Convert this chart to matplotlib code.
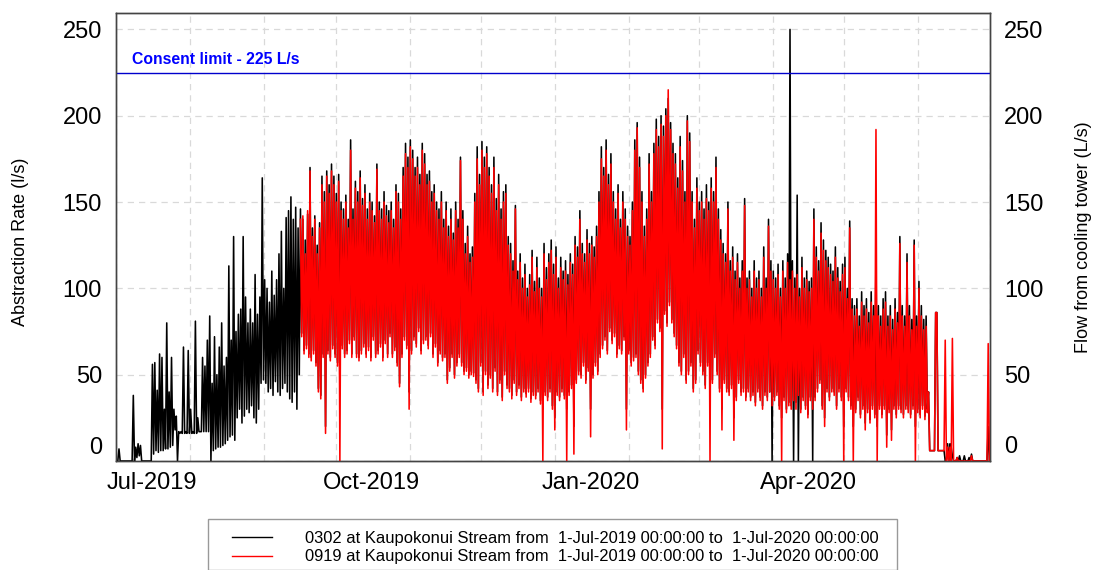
import numpy as np
import matplotlib
matplotlib.use("Agg")
import matplotlib.pyplot as plt
import matplotlib.dates as mdates
import matplotlib.transforms as mtransforms
from matplotlib.patches import Rectangle
from datetime import datetime

plt.rcParams["font.family"] = ["Liberation Sans", "DejaVu Sans"]

# ---------------------------------------------------------------------------
# Data: daily high / low readings (l/s).
# Black = site 0302 (from 1-Jul-2019), red = site 0919 (from 16-Sep-2019)
# ---------------------------------------------------------------------------
START = datetime(2019, 7, 1)
END = datetime(2020, 7, 1)
RED_START_DAY = 77

black_hi = [
    0, 7, 0, 0, 0, 0, 0, 38, 8, 10,
    9, 0, 0, 0, 0, 56, 57, 41, 62, 60,
    30, 80, 40, 60, 30, 26, 17, 17, 66, 17,
    64, 30, 17, 81, 25, 17, 60, 55, 70, 84,
    45, 72, 50, 66, 80, 55, 60, 113, 70, 130,
    75, 85, 88, 130, 95, 80, 88, 80, 108, 85,
    95, 164, 105, 100, 92, 110, 96, 105, 120, 133,
    100, 141, 145, 153, 140, 147, 135,
    146, 140, 128, 143, 170, 135, 142, 125, 138, 165,
    156, 168, 160, 172, 165, 155, 166, 150, 146, 154,
    140, 186, 146, 162, 156, 168, 152, 160, 146, 155,
    150, 142, 172, 150, 146, 156, 148, 145, 150, 140,
    160, 155, 146, 170, 184, 176, 186, 180, 170, 176,
    166, 184, 178, 166, 168, 156, 160, 150, 146, 156,
    140, 150, 136, 146, 132, 150, 140, 176, 145, 126,
    136, 120, 124, 155, 182, 166, 185, 176, 182, 170,
    160, 176, 152, 166, 146, 156, 160, 130, 126, 116,
    148, 110, 120, 106, 114, 100, 108, 122, 104, 118,
    106, 100, 126, 112, 120, 128, 114, 124, 106, 118,
    110, 116, 108, 120, 114, 130, 124, 145, 126, 120,
    134, 126, 130, 124, 136, 156, 182, 170, 186, 166,
    178, 156, 146, 160, 140, 156, 146, 136, 130, 150,
    186, 196, 176, 156, 136, 146, 178, 156, 184, 198,
    188, 200, 194, 204, 210, 196, 184, 178, 164, 188,
    174, 156, 200, 190, 156, 140, 164, 150, 156, 146,
    160, 150, 164, 156, 176, 146, 134, 126, 120, 150,
    116, 124, 110, 120, 106, 116, 152, 106, 110, 100,
    116, 106, 110, 100, 124, 106, 140, 116, 110, 106,
    114, 100, 116, 106, 120, 250, 116, 106, 154, 100,
    118, 106, 110, 104, 106, 146, 124, 116, 138, 128,
    122, 118, 114, 110, 124, 112, 104, 114, 118, 100,
    139, 94, 90, 94, 84, 98, 90, 94, 86, 98,
    90, 121, 90, 84, 94, 98, 84, 90, 82, 94,
    86, 130, 90, 84, 120, 90, 82, 128, 84, 104,
    90, 82, 84, 40, 6, 6, 86, 6, 6, 6,
    0, 10, 10, 3, 0, 2, 3, 0, 3, 0,
    2, 4, 0, 0, 0, 0, 0, 0, 20,
]

black_lo = [
    0, 0, 0, 0, 0, 0, 0, 0, 2, 3,
    0, 0, 0, 0, 0, 4, 6, 5, 6, 6,
    7, 7, 8, 9, 18, 0, 16, 16, 16, 16,
    16, 16, 16, 16, 17, 17, 17, 17, 17, 0,
    6, 7, 8, 8, 9, 10, 12, 14, 15, 12,
    25, 30, 22, 26, 30, 28, 32, 25, 22, 30,
    45, 47, 45, 40, 42, 38, 46, 40, 38, 42,
    45, 40, 36, 34, 40, 30, 50,
    74, 64, 67, 62, 60, 64, 57, 42, 38, 62,
    20, 64, 60, 67, 62, 57, 40, 67, 62, 64,
    70, 62, 72, 62, 60, 64, 68, 62, 66, 60,
    72, 62, 64, 68, 60, 70, 62, 74, 62, 66,
    57, 45, 62, 72, 67, 40, 64, 72, 68, 77,
    64, 70, 72, 67, 74, 62, 68, 57, 64, 60,
    62, 47, 54, 62, 50, 57, 62, 57, 52, 54,
    50, 52, 51, 47, 42, 57, 40, 52, 44, 50,
    42, 54, 40, 47, 37, 52, 44, 42, 38, 47,
    40, 44, 37, 42, 39, 42, 36, 40, 38, 42,
    35, 30, 40, 37, 42, 32, 25, 40, 37, 42,
    38, 30, 40, 44, 20, 47, 52, 50, 57, 47,
    54, 30, 50, 57, 52, 62, 67, 72, 64, 77,
    70, 74, 62, 67, 64, 72, 30, 64, 57, 60,
    62, 52, 47, 42, 50, 57, 62, 72, 67, 82,
    77, 30, 87, 80, 92, 82, 74, 67, 57, 52,
    62, 47, 52, 57, 42, 47, 64, 57, 52, 44,
    57, 30, 47, 62, 52, 42, 30, 47, 42, 40,
    44, 25, 37, 47, 40, 42, 37, 42, 37, 40,
    34, 42, 37, 32, 40, 37, 40, 0, 37, 40,
    32, 25, 37, 30, 34, 32, 0, 34, 0, 30,
    37, 32, 27, 37, 0, 37, 42, 47, 32, 25,
    42, 37, 42, 40, 32, 42, 37, 20, 42, 37,
    32, 20, 30, 37, 27, 32, 22, 30, 24, 32,
    27, 20, 32, 27, 32, 15, 30, 18, 32, 27,
    32, 30, 27, 32, 30, 27, 32, 20, 30, 27,
    32, 26, 30, 6, 6, 6, 86, 6, 6, 6,
    0, 0, 8, 0, 0, 0, 0, 0, 0, 0,
    0, 0, 0, 0, 0, 0, 0, 0, 0,
]

red_hi = [
    140, 142, 120, 145, 168, 130, 140, 120, 135, 160,
    150, 165, 155, 168, 160, 150, 162, 145, 140, 150,
    135, 180, 140, 158, 150, 164, 148, 155, 140, 150,
    145, 138, 169, 145, 140, 150, 142, 138, 145, 135,
    156, 150, 140, 165, 178, 170, 182, 175, 165, 170,
    160, 180, 172, 160, 162, 150, 155, 145, 140, 150,
    135, 145, 130, 140, 128, 145, 135, 174, 140, 120,
    130, 115, 118, 150, 175, 160, 180, 170, 178, 165,
    155, 170, 145, 160, 140, 150, 155, 125, 120, 110,
    146, 105, 115, 100, 108, 95, 102, 118, 98, 112,
    100, 95, 120, 105, 115, 122, 108, 118, 100, 112,
    105, 110, 102, 115, 108, 125, 118, 140, 120, 115,
    128, 120, 125, 118, 130, 150, 175, 165, 180, 160,
    172, 150, 140, 155, 135, 150, 140, 130, 125, 145,
    180, 193, 170, 150, 130, 140, 172, 150, 178, 192,
    182, 195, 188, 200, 215, 192, 178, 172, 158, 182,
    168, 150, 197, 185, 150, 135, 158, 145, 150, 140,
    152, 145, 158, 150, 170, 140, 128, 120, 115, 146,
    110, 118, 105, 115, 100, 110, 148, 100, 105, 95,
    110, 100, 105, 95, 118, 100, 136, 110, 105, 100,
    108, 95, 110, 100, 115, 105, 110, 100, 108, 95,
    112, 100, 105, 98, 100, 140, 118, 110, 132, 122,
    116, 112, 108, 104, 118, 106, 98, 108, 112, 94,
    135, 88, 84, 88, 78, 92, 84, 88, 80, 92,
    84, 192, 84, 78, 88, 92, 78, 84, 76, 88,
    80, 126, 84, 78, 115, 84, 76, 125, 78, 100,
    84, 76, 78, 40, 6, 6, 86, 6, 6, 6,
    70, 8, 8, 71, 0, 2, 0, 0, 0, 0,
    0, 3, 0, 0, 0, 0, 0, 0, 68,
]

red_lo = [
    72, 62, 65, 60, 58, 62, 55, 40, 36, 60,
    16, 62, 58, 65, 60, 55, 0, 65, 60, 62,
    68, 60, 70, 60, 58, 62, 66, 60, 64, 58,
    70, 60, 62, 66, 58, 68, 60, 72, 60, 64,
    55, 43, 60, 70, 65, 30, 62, 70, 66, 75,
    62, 68, 70, 65, 72, 60, 66, 55, 62, 58,
    60, 45, 52, 60, 48, 55, 60, 55, 50, 52,
    48, 50, 49, 45, 40, 55, 38, 50, 42, 48,
    40, 52, 38, 45, 35, 50, 42, 40, 36, 45,
    38, 42, 35, 40, 37, 40, 34, 38, 36, 40,
    33, 0, 38, 35, 40, 30, 18, 38, 35, 40,
    36, 0, 38, 42, 4, 45, 50, 48, 55, 45,
    52, 14, 48, 55, 50, 60, 65, 70, 62, 75,
    68, 72, 60, 65, 62, 70, 18, 62, 55, 58,
    60, 50, 45, 40, 48, 55, 60, 70, 65, 80,
    75, 7, 85, 78, 90, 80, 72, 65, 55, 50,
    60, 45, 50, 55, 40, 45, 62, 55, 50, 42,
    55, 0, 45, 60, 50, 40, 18, 45, 40, 38,
    42, 12, 35, 45, 38, 40, 35, 40, 35, 38,
    32, 40, 35, 30, 38, 35, 40, 32, 35, 38,
    30, 0, 35, 28, 32, 30, 35, 30, 38, 28,
    35, 30, 25, 35, 30, 35, 40, 45, 30, 20,
    40, 35, 40, 38, 30, 40, 35, 0, 40, 35,
    30, 0, 28, 35, 25, 30, 18, 28, 22, 30,
    25, 0, 30, 25, 30, 8, 28, 12, 30, 25,
    30, 28, 25, 30, 28, 25, 30, 0, 28, 25,
    30, 24, 28, 6, 6, 6, 86, 6, 6, 6,
    0, 0, 0, 0, 0, 0, 0, 0, 0, 0,
    0, 0, 0, 0, 0, 0, 0, 0, 0,
]

CONSENT_LIMIT = 225
LABEL_BLACK = "0302 at Kaupokonui Stream from  1-Jul-2019 00:00:00 to  1-Jul-2020 00:00:00"
LABEL_RED = "0919 at Kaupokonui Stream from  1-Jul-2019 00:00:00 to  1-Jul-2020 00:00:00"


def zigzag(hi, lo, first_day):
    """Interleave daily high/low readings at 06:00 and 18:00."""
    hi = np.asarray(hi, dtype=float)
    lo = np.asarray(lo, dtype=float)
    vals = np.column_stack([hi, lo]).ravel()
    t = mdates.date2num(START) + first_day + 0.25 + 0.5 * np.arange(len(vals))
    return t, vals


tb, vb = zigzag(black_hi, black_lo, 0)
tr, vr = zigzag(red_hi, red_lo, RED_START_DAY)

W, H = 1093, 570
fig = plt.figure(figsize=(W / 100, H / 100), dpi=100)
ax = fig.add_axes([116 / W, 1 - 461 / H, 874 / W, 448 / H])

ax.plot(tb, vb, color="black", lw=1.15, label=LABEL_BLACK, zorder=3)
ax.plot(tr, vr, color="#ff0000", lw=1.15, label=LABEL_RED, zorder=4)
ax.axhline(CONSENT_LIMIT, color="#0000cc", lw=1.0, zorder=5)
ax.text(mdates.date2num(START) + 6.7, 232.5, "Consent limit - 225 L/s",
        color="#0000ff", fontsize=11.3, fontweight="bold", va="center", ha="left")

ax.set_xlim(mdates.date2num(START), mdates.date2num(END))
ax.set_ylim(0, 259.5)

# monthly grid, quarterly labels at mid-month
ax.xaxis.set_major_locator(mdates.MonthLocator(bymonthday=1))
ax.xaxis.set_major_formatter(plt.NullFormatter())
ax.xaxis.set_minor_locator(mdates.MonthLocator(bymonth=[1, 4, 7, 10], bymonthday=16))
ax.xaxis.set_minor_formatter(mdates.DateFormatter("%b-%Y"))
ax.tick_params(axis="x", which="both", length=0, labelsize=17, pad=8)

yticks = [0, 50, 100, 150, 200, 250]
ax.set_yticks(yticks)
ax.tick_params(axis="y", length=0, labelsize=17, pad=10)
ax.grid(True, which="major", color="#d9d9d9", linestyle=(0, (5, 4)), lw=0.9)
ax.set_axisbelow(True)
ax.set_ylabel("Abstraction Rate (l/s)", fontsize=13)
ax.yaxis.set_label_coords(-0.099, 0.49)

ax2 = ax.twinx()
ax2.set_ylim(ax.get_ylim())
ax2.set_yticks(yticks)
ax2.tick_params(axis="y", length=0, labelsize=17, pad=10)
ax2.set_ylabel("Flow from cooling tower (L/s)", fontsize=13)
ax2.yaxis.set_label_coords(1.097, 0.5)

for a in (ax, ax2):
    for s in a.spines.values():
        s.set_color("#444444")
        s.set_linewidth(1.0)

# lift the "0" labels off the bottom axis
lift = mtransforms.ScaledTranslation(0, 16 / 100, fig.dpi_scale_trans)
for ticks in (ax.yaxis.get_major_ticks(), ax2.yaxis.get_major_ticks()):
    t0 = ticks[0]
    t0.label1.set_transform(t0.label1.get_transform() + lift)
    t0.label2.set_transform(t0.label2.get_transform() + lift)

# legend box runs off the bottom of the figure, as in the source
fig.patches.append(Rectangle((208 / W, 0), 689 / W, 1 - 519 / H,
                             transform=fig.transFigure, facecolor="white",
                             edgecolor="#999999", lw=1.0, zorder=0))
handles, labels = ax.get_legend_handles_labels()
leg = fig.legend(handles, labels, loc="upper left",
                 bbox_to_anchor=(232 / W, 1 - 531 / H),
                 fontsize=11.9, frameon=False, handlelength=2.4, handletextpad=2.0,
                 borderpad=0.0, labelspacing=0.2, borderaxespad=0.0)
for h in leg.legend_handles:
    h.set_linewidth(1.0)

fig.savefig("out.png", dpi=100)
plt.close(fig)
